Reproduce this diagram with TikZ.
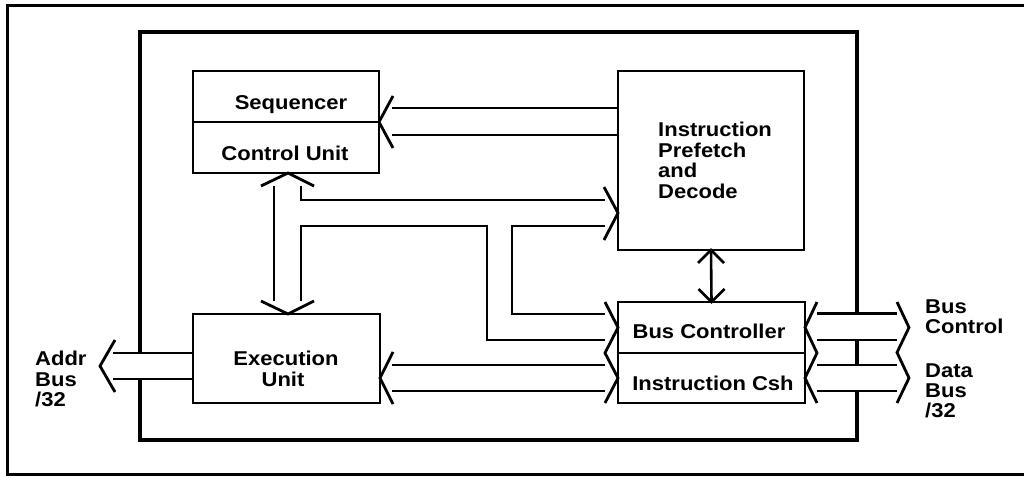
\documentclass[tikz,border=0pt]{standalone}
\usepackage{fontspec}
\setmainfont{Liberation Sans}[FakeStretch=1.1]
\usetikzlibrary{calc}
\newcommand\lblfont{\fontsize{20}{20.6}\selectfont\bfseries}
\begin{document}
\begin{tikzpicture}[x=1pt,y=-1pt,
  frame/.style={line width=4pt},
  outerframe/.style={line width=3pt},
  box/.style={draw, line width=2.6pt, inner sep=0pt, outer sep=0pt, anchor=north west},
  bus/.style={line width=2.6pt},
  chev/.style={line width=2.8pt},
  txt/.style={font=\lblfont, inner sep=0pt, anchor=base},
  txtl/.style={font=\lblfont, inner sep=0pt, anchor=base west}]
\useasboundingbox (0,0) rectangle (1024,478);

% outer frame (open at the right)
\draw[outerframe] (1024,6) -- (7,6) -- (7,474) -- (1024,474);

% inner frame, broken where the external buses pass
\draw[frame] (140,353) -- (140,32) -- (857,32) -- (857,314);
\draw[frame] (140,379) -- (140,440) -- (857,440) -- (857,391);
\draw[frame] (857,340) -- (857,365);

% boxes
\node[box, minimum width=186pt, minimum height=51pt] (seq) at (193,71) {};
\node[box, minimum width=186pt, minimum height=51pt] (cu)  at (193,122) {};
\node[box, minimum width=186pt, minimum height=179pt] (ipd) at (618,71) {};
\node[box, minimum width=187pt, minimum height=51pt] (bc)  at (618,302) {};
\node[box, minimum width=187pt, minimum height=50pt] (ic)  at (618,353) {};
\node[box, minimum width=187pt, minimum height=89pt] (eu)  at (193,314) {};

% texts
\node[txt] (tseq) at (291,110) {Sequencer};
\node[txt] (tcu)  at (285,161) {Control Unit};
\node[txtl] (ipd1) at (658,137) {Instruction};
\node[txtl] (ipd2) at (658,157.5) {Prefetch};
\node[txtl] (ipd3) at (658,178) {and};
\node[txtl] (ipd4) at (658,199) {Decode};
\node[txt] (teu1) at (286,365) {Execution};
\node[txt] (teu2) at (283,386) {Unit};
\node[txt] (tbc) at (709,338) {Bus Controller};
\node[txt] (tic) at (713,390) {Instruction Csh};
\node[txtl] (ad1) at (35,365) {Addr};
\node[txtl] (ad2) at (35,386) {Bus};
\node[txtl] (ad3) at (35,406) {/32};
\node[txtl] (bctl1) at (925,313) {Bus};
\node[txtl] (bctl2) at (925,333) {Control};
\node[txtl] (db1) at (925,377) {Data};
\node[txtl] (db2) at (925,397) {Bus};
\node[txtl] (db3) at (925,417) {/32};

% Instruction Prefetch -> Sequencer / Control Unit
\draw[chev] ($(seq.south east)+(14,-26)$) -- (seq.south east) -- ($(seq.south east)+(14,26)$);
\draw[bus] ($(seq.south east)+(13,-14)$) -- (ipd.west |- 0,108);
\draw[bus] ($(seq.south east)+(13,13)$) -- (ipd.west |- 0,135);

% Control Unit <-> Execution Unit
\coordinate (t1) at ($(cu.south)+(2,0)$);
\coordinate (t2) at (t1 |- eu.north);
\draw[chev] ($(t1)+(-27,13)$) -- (t1) -- ($(t1)+(26,13)$);
\draw[chev] ($(t2)+(-27,-13)$) -- (t2) -- ($(t2)+(26,-13)$);
\draw[bus] ($(t1)+(-14,13)$) -- ($(t2)+(-14,-13)$);

% into Instruction Prefetch and Decode
\coordinate (t3) at (ipd.west |- 0,213);
\draw[chev] ($(t3)+(-14,-26)$) -- (t3) -- ($(t3)+(-14,27)$);
\draw[bus] ($(t1)+(13,13)$) |- ($(t3)+(-13,-13)$);

% Bus Controller, left side
\draw[chev] ($(bc.north west)+(-13,0)$) -- (bc.west) -- ($(bc.south west)+(-13,0)$)
  -- (ic.west) -- ($(ic.south west)+(-13,0)$);
\coordinate (j1) at (512,226);
\coordinate (j2) at (487,226);
\draw[bus] ($(t3)+(-13,13)$) -- (j1) |- ($(bc.west)+(-13,-13.5)$);
\draw[bus] ($(t2)+(13,-13)$) |- (j2) |- ($(bc.west)+(-13,12.5)$);

% Execution Unit <-> Instruction Csh
\coordinate (t5) at (eu.east |- ic.west);
\draw[chev] ($(t5)+(13,-26)$) -- (t5) -- ($(t5)+(13,26)$);
\draw[bus] ($(t5)+(12,-13)$) -- ($(ic.west)+(-13,-13)$);
\draw[bus] ($(t5)+(12,13)$) -- ($(ic.west)+(-13,13)$);

% Instruction Prefetch <-> Bus Controller
\draw[bus] (ipd.south) -- (bc.north);
\draw[chev] ($(ipd.south)+(-13,13)$) -- (ipd.south) -- ($(ipd.south)+(13,13)$);
\draw[chev] ($(bc.north)+(-13,-13)$) -- (bc.north) -- ($(bc.north)+(13,-13)$);

% external buses on the right
\coordinate (bcx) at (909,327.5);
\coordinate (icx) at (909,378);
\draw[chev] ($(bc.north east)+(12,0)$) -- (bc.east) -- ($(bc.south east)+(12,0)$)
  -- (ic.east) -- ($(ic.south east)+(12,0)$);
\draw[chev] ($(bcx)+(-12,-25.5)$) -- (bcx) -- ($(bcx)+(-12,25)$) -- (icx) -- ($(icx)+(-12,25)$);
\draw[bus] ($(bc.east)+(12,-14)$) -- ($(bcx)+(-12,-14)$);
\draw[bus] ($(bc.east)+(12,12.5)$) -- ($(bcx)+(-12,12.5)$);
\draw[bus] ($(ic.east)+(12,-13)$) -- ($(icx)+(-12,-13)$);
\draw[bus] ($(ic.east)+(12,13)$) -- ($(icx)+(-12,13)$);

% address bus
\coordinate (addr) at (100,366);
\draw[chev] ($(addr)+(15,-26)$) -- (addr) -- ($(addr)+(15,26)$);
\draw[bus] ($(addr)+(13,-13)$) -- (eu.west |- 0,353);
\draw[bus] ($(addr)+(13,13)$) -- (eu.west |- 0,379);
\end{tikzpicture}
\end{document}
